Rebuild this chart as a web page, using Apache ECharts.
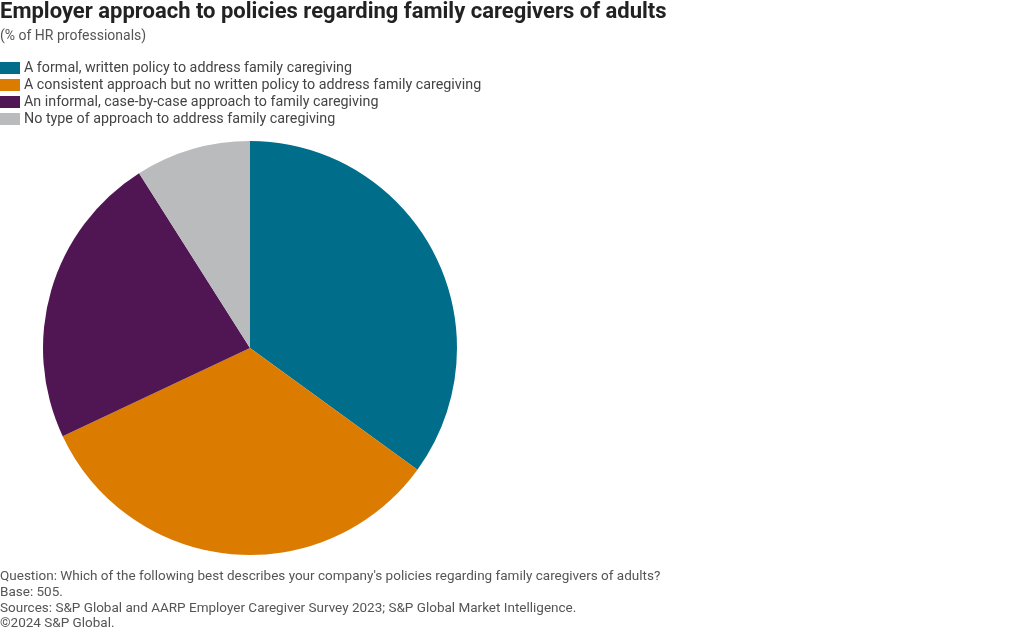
<!DOCTYPE html>
<html><head><meta charset="utf-8">
<script src="https://cdn.jsdelivr.net/npm/echarts@6/dist/echarts.min.js"></script>
<style>html,body{margin:0;padding:0;background:#fff}#c{width:1020px;height:632px}</style>
</head><body><div id="c"></div>
<script>
const categories = [
  "A formal, written policy to address family caregiving",
  "A consistent approach but no written policy to address family caregiving",
  "An informal, case-by-case approach to family caregiving",
  "No type of approach to address family caregiving"
];
const values = [35, 33, 23, 9];
const colors = ["#006E8A", "#DB7B00", "#501653", "#BABBBD"];
const titleText = "Employer approach to policies regarding family caregivers of adults";
const subtitleText = "(% of HR professionals)";
const footLines = [
  "Question: Which of the following best describes your company's policies regarding family caregivers of adults?",
  "Base: 505.",
  "Sources: S&P Global and AARP Employer Caregiver Survey 2023; S&P Global Market Intelligence.",
  "\u00A92024 S&P Global."
];
const FONT = "Roboto, 'Noto Sans', sans-serif";
const chart = echarts.init(document.getElementById('c'));
const footGraphics = footLines.map((t, i) => ({
  type: 'text', left: 0, top: 570 + i * 15.7,
  style: { text: t, font: "13.5px " + FONT, fill: '#555555' }
}));
chart.setOption({
  animation: false,
  color: colors,
  title: {
    text: titleText, subtext: subtitleText, left: 0, top: 1, padding: 0, itemGap: 6,
    textStyle: { fontFamily: FONT, fontSize: 22, fontWeight: 'bold', color: '#222222' },
    subtextStyle: { fontFamily: FONT, fontSize: 14, color: '#555555' }
  },
  legend: {
    orient: 'vertical', left: 0, top: 61, padding: 0, itemGap: 3,
    itemWidth: 20, itemHeight: 12, icon: 'rect', selectedMode: false,
    textStyle: { fontFamily: FONT, fontSize: 14.3, color: '#444444', padding: [0, 0, 0, -1] },
    data: categories
  },
  graphic: footGraphics,
  series: [{
    type: 'pie', center: [250, 348], radius: 207, startAngle: 90, clockwise: true,
    label: { show: false }, labelLine: { show: false }, silent: true,
    data: categories.map((c, i) => ({ name: c, value: values[i] }))
  }]
});
</script></body></html>
